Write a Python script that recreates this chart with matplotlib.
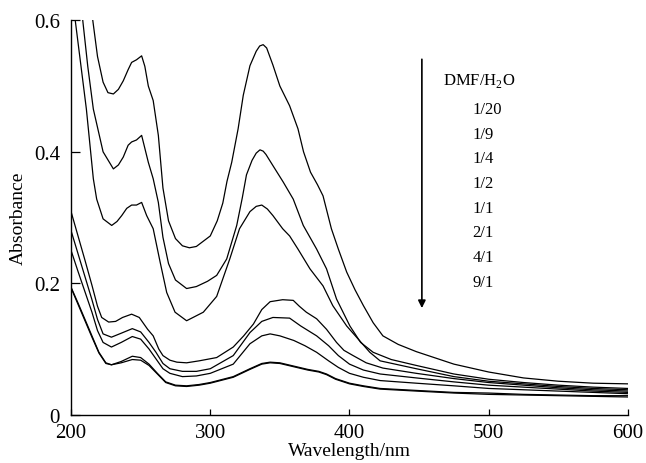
import matplotlib
matplotlib.use("Agg")
import matplotlib.pyplot as plt

plt.rcParams['font.family'] = ['Liberation Serif', 'DejaVu Serif']
plt.rcParams['mathtext.fontset'] = 'custom'
plt.rcParams['mathtext.rm'] = 'Liberation Serif'

# DMF/H2O ratios, top curve first
ratios = ["1/20", "1/9", "1/4", "1/2", "1/1", "2/1", "4/1", "9/1"]

# spectra (wavelength nm, absorbance)
wl_1_20 = [200, 205, 210, 215.6, 219, 223, 226.5, 230.4, 234, 237.5, 241, 243.5, 247, 250.7,
           253, 255.5, 259, 262.7, 266, 270, 275, 280, 285, 290, 300, 305, 309, 312, 315.4,
           320, 323.7, 328.5, 333, 335.5, 338, 340.5, 345, 350, 357, 363, 367, 372, 377, 381, 387,
           392, 398, 404, 410, 417, 424, 435, 448, 475, 500, 525, 550, 575, 600]
abs_1_20 = [0.98, 0.85, 0.72, 0.60, 0.545, 0.506, 0.49, 0.488, 0.495, 0.508, 0.525, 0.536, 0.54, 0.546,
            0.53, 0.50, 0.478, 0.425, 0.345, 0.295, 0.268, 0.257, 0.254, 0.256, 0.272, 0.295, 0.322, 0.355, 0.384,
            0.435, 0.486, 0.531, 0.553, 0.561, 0.563, 0.558, 0.532, 0.50, 0.47, 0.435, 0.40, 0.369, 0.35, 0.333, 0.283,
            0.252, 0.217, 0.19, 0.166, 0.14, 0.12, 0.107, 0.096, 0.077, 0.065, 0.056, 0.051, 0.048, 0.047]

wl_1_9 = [200, 205, 208.4, 212, 216, 223, 230.4, 234, 237.5, 241, 243.5, 247, 250.7, 255.5, 259,
          262.7, 266, 270, 275, 283, 290, 298, 304.6, 311.8, 319, 323, 326, 330, 333, 335.7, 338, 340, 345,
          352.4, 359.6, 366.8, 376.4, 383.5, 390.7, 400.3, 408, 417, 430, 448, 475, 500, 525, 550, 575, 600]
abs_1_9 = [0.80, 0.68, 0.60, 0.53, 0.465, 0.40, 0.374, 0.38, 0.392, 0.41, 0.415, 0.418, 0.425, 0.384, 0.359,
           0.323, 0.27, 0.23, 0.205, 0.192, 0.195, 0.203, 0.212, 0.237, 0.288, 0.33, 0.365, 0.387, 0.398, 0.403, 0.401, 0.396, 0.379,
           0.354, 0.328, 0.288, 0.252, 0.222, 0.176, 0.135, 0.11, 0.095, 0.084, 0.075, 0.062, 0.054, 0.049, 0.045, 0.042, 0.040]

wl_1_4 = [200, 203, 211, 216, 218.4, 223, 229.2, 233, 236.4, 240, 243.5, 247, 250.7, 254.3, 259, 264,
          268.7, 274.7, 283, 295, 304.6, 314, 321, 328.5, 333, 337, 341, 345, 352, 357, 363, 371.6, 381, 388,
          398, 414.6, 422, 448, 475, 500, 525, 550, 575, 600]
abs_1_4 = [0.66, 0.60, 0.465, 0.359, 0.328, 0.298, 0.288, 0.294, 0.303, 0.314, 0.319, 0.319, 0.323, 0.303, 0.283, 0.232,
           0.186, 0.156, 0.143, 0.156, 0.18, 0.237, 0.283, 0.309, 0.317, 0.319, 0.313, 0.303, 0.283, 0.272, 0.252, 0.222, 0.196, 0.166,
           0.135, 0.095, 0.082, 0.07, 0.058, 0.051, 0.047, 0.043, 0.040, 0.038]

wl_1_2 = [200, 205, 210, 215, 219, 222, 227, 232, 237, 243.5, 249, 255, 259, 263, 266, 271, 276, 283,
          292, 304.6, 316.5, 324, 331, 337, 343, 352, 359.6, 364, 369, 376.4, 383.5, 390.7, 396,
          402.6, 412, 424, 448, 475, 500, 525, 550, 575, 600]
abs_1_2 = [0.309, 0.272, 0.235, 0.197, 0.165, 0.148, 0.141, 0.142, 0.148, 0.153, 0.148, 0.13, 0.12, 0.10, 0.09, 0.083, 0.08, 0.079,
           0.082, 0.087, 0.103, 0.12, 0.138, 0.16, 0.172, 0.175, 0.174, 0.165, 0.156, 0.146, 0.13, 0.11, 0.098,
           0.09, 0.079, 0.071, 0.063, 0.055, 0.049, 0.045, 0.041, 0.038, 0.036]

wl_1_1 = [200, 205, 210, 215, 219, 223, 229, 236, 244, 250, 256, 261, 266, 271, 280, 290, 300, 316.5,
          328.5, 337, 345, 357, 365, 376.4, 385, 392, 400, 410, 422, 448, 475, 500, 525, 550, 575, 600]
abs_1_1 = [0.28, 0.245, 0.21, 0.175, 0.145, 0.123, 0.118, 0.124, 0.131, 0.126, 0.11, 0.095, 0.078, 0.07, 0.066, 0.066, 0.07, 0.09,
           0.125, 0.142, 0.148, 0.147, 0.135, 0.12, 0.105, 0.09, 0.077, 0.068, 0.062, 0.056, 0.05, 0.045, 0.042, 0.039, 0.036, 0.034]

wl_2_1 = [200, 205, 210, 215, 219, 223, 229, 236, 244, 250, 256, 261, 266, 271, 280, 290, 300, 316.5,
          328.5, 337, 343, 350, 360, 368, 376.4, 385, 392, 400, 410, 422, 448, 475, 500, 525, 550, 575, 600]
abs_2_1 = [0.25, 0.218, 0.187, 0.156, 0.128, 0.11, 0.103, 0.11, 0.119, 0.115, 0.10, 0.085, 0.07, 0.063, 0.058, 0.059, 0.063, 0.077,
           0.108, 0.12, 0.123, 0.12, 0.113, 0.105, 0.095, 0.082, 0.072, 0.063, 0.057, 0.052, 0.048, 0.044, 0.040, 0.038, 0.036, 0.034, 0.032]

wl_4_1 = [200, 205, 210, 215, 220, 225, 229, 236, 244, 250, 256, 262, 268, 275, 283, 292, 300, 316.5,
          328.5, 337, 343, 350, 360, 370, 378, 383.5, 390, 400, 410, 422, 448, 475, 500, 525, 550, 575, 600]
abs_4_1 = [0.194, 0.17, 0.145, 0.12, 0.095, 0.079, 0.076, 0.081, 0.089, 0.087, 0.077, 0.063, 0.05, 0.045, 0.044, 0.046, 0.049, 0.058,
           0.07, 0.078, 0.08, 0.079, 0.074, 0.069, 0.066, 0.062, 0.055, 0.048, 0.044, 0.040, 0.037, 0.034, 0.033, 0.031, 0.030, 0.029, 0.029]

wl_9_1 = [200, 205, 210, 215, 220, 225, 229, 236, 244, 250, 256, 262, 268, 275, 283, 292, 300, 316.5,
          328.5, 337, 343, 350, 360, 370, 378, 383.5, 390, 400, 410, 422, 448, 475, 500, 525, 550, 575, 600]
abs_9_1 = [0.193, 0.168, 0.143, 0.118, 0.094, 0.078, 0.076, 0.079, 0.084, 0.083, 0.075, 0.062, 0.049, 0.044, 0.043, 0.045, 0.048, 0.057,
           0.069, 0.077, 0.079, 0.078, 0.073, 0.068, 0.065, 0.061, 0.054, 0.047, 0.043, 0.039, 0.036, 0.033, 0.031, 0.030, 0.029, 0.028, 0.027]

spectra = [(wl_1_20, abs_1_20), (wl_1_9, abs_1_9), (wl_1_4, abs_1_4), (wl_1_2, abs_1_2),
           (wl_1_1, abs_1_1), (wl_2_1, abs_2_1), (wl_4_1, abs_4_1), (wl_9_1, abs_9_1)]

fig = plt.figure(figsize=(6.46, 4.64), dpi=100)
ax = fig.add_axes([0.11, 0.104, 0.862, 0.85])

for wl, a in spectra:
    ax.plot(wl, a, color='black', lw=0.9)

ax.set_xlim(200, 600)
ax.set_ylim(0, 0.6)
ax.set_xticks([200, 300, 400, 500, 600])
ax.set_yticks([0, 0.2, 0.4, 0.6])
ax.set_yticklabels(["0", "0.2", "0.4", "0.6"])
ax.spines['top'].set_visible(False)
ax.spines['right'].set_visible(False)
for s in ('left', 'bottom'):
    ax.spines[s].set_linewidth(1.0)
ax.tick_params(axis='x', direction='in', length=4, width=0.9, labelsize=15, pad=6)
ax.tick_params(axis='y', direction='in', length=6.5, width=0.9, labelsize=15, pad=8)
ax.set_xlabel("Wavelength/nm", fontsize=14, labelpad=0)
ax.set_ylabel("Absorbance", fontsize=14, labelpad=5)

# arrow + ratio list
ax.annotate('', xy=(452, 0.158), xytext=(452, 0.545),
            arrowprops=dict(arrowstyle='-|>', color='black', lw=1.2, mutation_scale=11))
ax.text(467.5, 0.509, r"DMF/H$_\mathregular{2}$O", fontsize=12, va='center', ha='left')
for i, r in enumerate(ratios):
    ax.text(488.5, 0.465 - i * 0.0375, r, fontsize=12, va='center', ha='left')

fig.savefig("out.png", dpi=100)
